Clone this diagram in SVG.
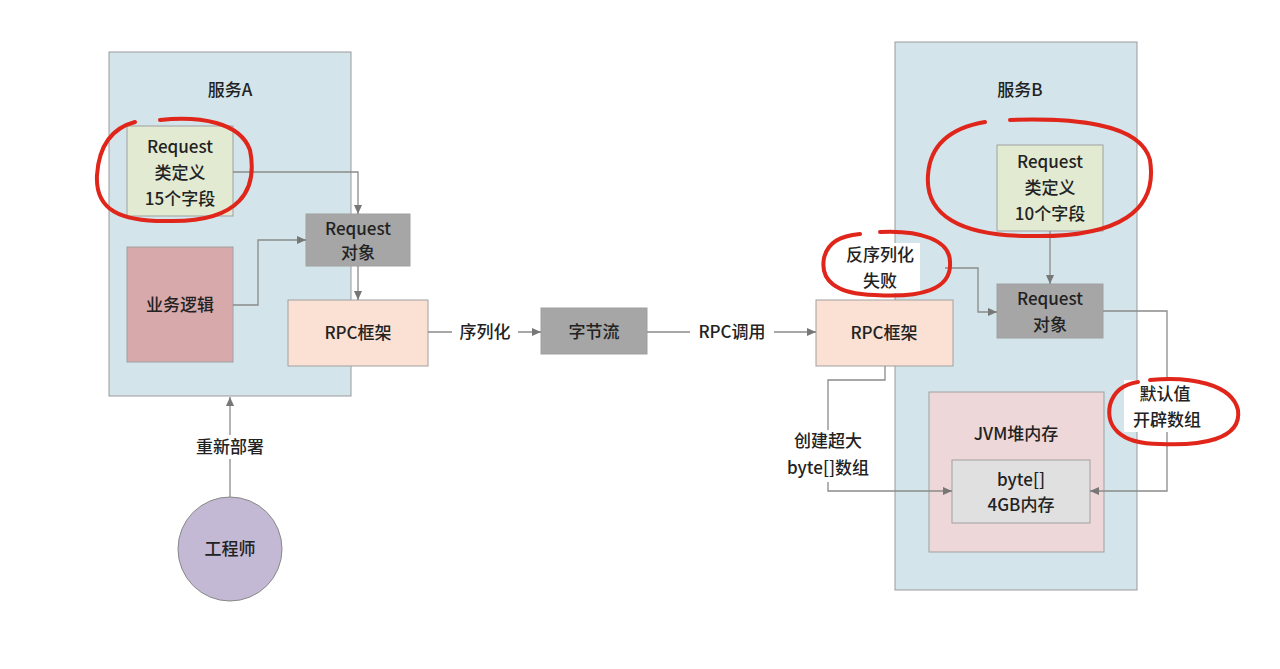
<svg xmlns="http://www.w3.org/2000/svg" width="1280" height="669" viewBox="0 0 1280 669">
<style>
text{font-family:"Noto Sans CJK SC","Noto Sans",sans-serif;font-size:17px;font-weight:500;fill:#222;text-anchor:middle}
.c{stroke:#9a9a9a;stroke-width:1}
.b{stroke:#a0a0a0;stroke-width:1}
.ln{fill:none;stroke:#8a8a8a;stroke-width:1.3}
.red{fill:none;stroke:#e0261b;stroke-width:4;stroke-linecap:round}
</style>
<defs><marker id="a" markerWidth="10" markerHeight="10" refX="9" refY="5" orient="auto" markerUnits="userSpaceOnUse"><path d="M0,1 L9,5 L0,9 z" fill="#777"/></marker></defs>
<rect width="1280" height="669" fill="#fff"/>
<g id="serviceA"><rect x="109" y="52" width="242" height="344" fill="#d3e4ea" class="c"/><text x="230" y="96">服务A</text></g>
<g id="serviceB"><rect x="895" y="42" width="242" height="548" fill="#d3e4ea" class="c"/><text x="1020" y="96">服务B</text></g>
<g id="reqDefA"><rect x="127" y="126" width="106" height="90" fill="#e2ead2" class="b"/><text x="180" y="153">Request</text><text x="180" y="179">类定义</text><text x="180" y="205">15个字段</text></g>
<g id="bizA"><rect x="127" y="247" width="106" height="115" fill="#d8a9ab" class="b"/><text x="180" y="311">业务逻辑</text></g>
<g id="reqObjA"><rect x="306" y="214" width="104" height="52" fill="#a6a6a6" class="b"/><text x="358" y="235">Request</text><text x="358" y="259">对象</text></g>
<g id="rpcA"><rect x="288" y="300" width="140" height="66" fill="#fbe0d4" class="b"/><text x="358" y="339">RPC框架</text></g>
<g id="bytes"><rect x="541" y="308" width="106" height="46" fill="#a6a6a6" class="b"/><text x="594" y="338">字节流</text></g>
<g id="engineer"><circle cx="230" cy="549" r="52" fill="#c3b9d4" stroke="#888"/><text x="230" y="555">工程师</text></g>
<g id="reqDefB"><rect x="997" y="145" width="106" height="86" fill="#e2ead2" class="b"/><text x="1050" y="168">Request</text><text x="1050" y="194">类定义</text><text x="1050" y="220">10个字段</text></g>
<g id="reqObjB"><rect x="997" y="284" width="106" height="54" fill="#a6a6a6" class="b"/><text x="1050" y="305">Request</text><text x="1050" y="331">对象</text></g>
<g id="rpcB"><rect x="816" y="300" width="137" height="66" fill="#fbe0d4" class="b"/><text x="884" y="339">RPC框架</text></g>
<g id="jvm"><rect x="929" y="392" width="175" height="160" fill="#eed7d8" class="b"/><text x="1016" y="440">JVM堆内存</text></g>
<g id="byteArr"><rect x="952" y="460" width="138" height="63" fill="#e0e0e0" class="b"/><text x="1021" y="486">byte[]</text><text x="1021" y="511">4GB内存</text></g>
<g id="connectors">
<path class="ln" d="M233,172 H358 V214" marker-end="url(#a)"/>
<path class="ln" d="M233,305 H258 V240 H306" marker-end="url(#a)"/>
<path class="ln" d="M358,266 V300" marker-end="url(#a)"/>
<path class="ln" d="M428,332 H541" marker-end="url(#a)"/>
<path class="ln" d="M647,332 H816" marker-end="url(#a)"/>
<path class="ln" d="M230,497 V397" marker-end="url(#a)"/>
<path class="ln" d="M1050,231 V284" marker-end="url(#a)"/>
<path class="ln" d="M945,268 H978 V312 H997" marker-end="url(#a)"/>
<path class="ln" d="M885,366 V380 H828 V491 H952" marker-end="url(#a)"/>
<path class="ln" d="M1103,311 H1167 V491 H1090" marker-end="url(#a)"/>
</g>
<g id="labels">
<rect x="452" y="320" width="66" height="24" fill="#fff"/><text x="485" y="338">序列化</text>
<rect x="690" y="320" width="84" height="24" fill="#fff"/><text x="732" y="338">RPC调用</text>
<rect x="190" y="435" width="80" height="24" fill="#fff"/><text x="230" y="453">重新部署</text>
<rect x="840" y="243" width="80" height="50" fill="#fff"/><text x="880" y="261">反序列化</text><text x="880" y="287">失败</text>
<rect x="778" y="430" width="100" height="52" fill="#fff"/><text x="828" y="447">创建超大</text><text x="828" y="474">byte[]数组</text>
<rect x="1124" y="380" width="86" height="52" fill="#fff"/><text x="1165" y="400">默认值</text><text x="1167" y="426">开辟数组</text>
</g>
<g id="marks">
<path class="red" d="M160,120 C200,116 240,122 250,150 C258,190 240,222 170,221 C120,222 95,210 97,175 C99,145 112,128 135,122"/>
<path class="red" d="M1010,120 C1070,118 1140,122 1150,160 C1158,210 1120,238 1030,236 C960,236 925,215 928,175 C930,145 950,128 985,122"/>
<path class="red" d="M880,232 C920,230 950,240 950,262 C952,290 920,298 875,295 C835,294 820,280 824,258 C828,242 840,236 860,234"/>
<path class="red" d="M1150,380 C1190,376 1232,384 1238,410 C1242,440 1200,446 1160,444 C1118,444 1106,425 1110,405 C1114,390 1125,384 1138,382"/>
</g>
</svg>
